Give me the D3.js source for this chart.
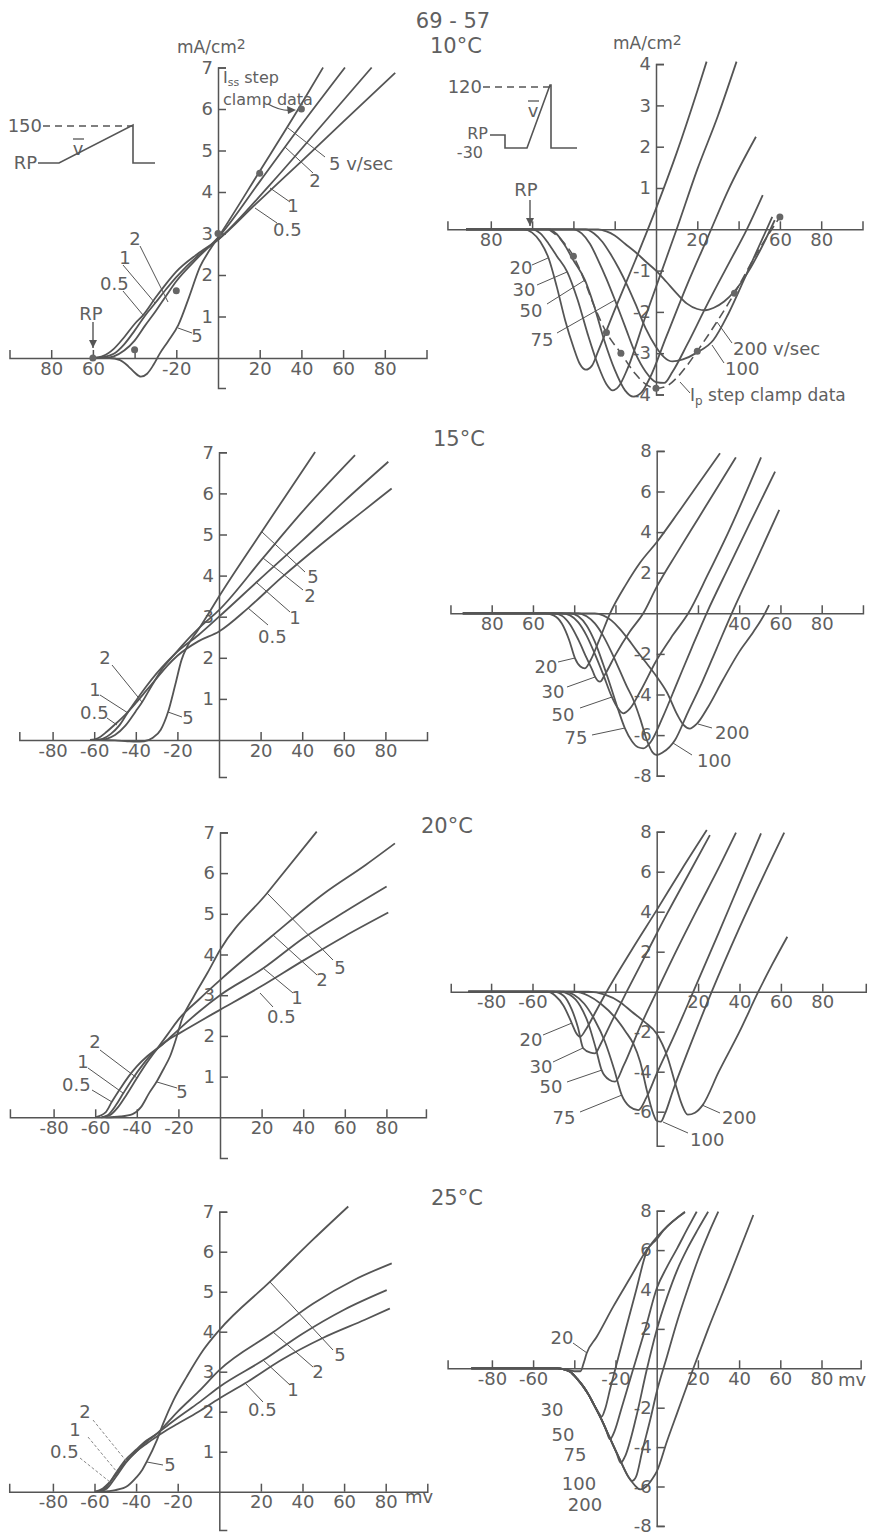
<!DOCTYPE html>
<html>
<head>
<meta charset="utf-8">
<script src="https://cdn.jsdelivr.net/npm/d3@7"></script>
<style>
  html, body { margin: 0; padding: 0; background: #fff; }
  svg text { font-family: "DejaVu Sans", sans-serif; fill: #606060; }
</style>
</head>
<body>
<svg id="fig" width="873" height="1540"></svg>
<script>
// ---------- data: membrane current (mA/cm2) vs potential (mV) ----------
const xTickValues = [-80, -60, -40, -20, 20, 40, 60, 80];

// 10 C, slow ramps (v/sec)
const l10_05 = [[-60,0],[-55,0.05],[-50,0.22],[-45,0.5],[-40,0.82],[-35.8,1.04],[-30,1.45],[-25,1.78],[-20,2.08],[-10,2.5],[0,2.85],[17.7,3.69],[40,4.74],[60,5.69],[85,6.87]];
const l10_1  = [[-60,0],[-55,0.02],[-50,0.1],[-45,0.33],[-40,0.66],[-35,1.02],[-30,1.33],[-25,1.65],[-20,1.95],[-10,2.45],[0,2.85],[25,4.18],[50,5.62],[73.7,7.0]];
const l10_2  = [[-60,0],[-55,0],[-50,0.04],[-45,0.18],[-40,0.42],[-35,0.78],[-30,1.12],[-24.6,1.52],[-20,1.85],[-10,2.4],[0,2.9],[20,4.25],[40,5.62],[60.9,7.0]];
const l10_5  = [[-60,0],[-52,0],[-47,-0.05],[-43,-0.2],[-40,-0.35],[-37,-0.45],[-34,-0.38],[-31,-0.17],[-28,0.1],[-24,0.4],[-19,0.8],[-14,1.45],[-8.6,2.2],[-4,2.6],[0,2.9],[20,4.5],[40,6.12],[50.4,7.0]];
const l10_iss = [[-60,0],[-40,0.2],[-20,1.62],[0,3.0],[20,4.45],[40,6.0]];

// 10 C, fast ramps (v/sec)
const r10_20  = [[-92,0],[-64,0],[-60,-0.08],[-56,-0.3],[-52,-0.7],[-48,-1.4],[-44,-2.2],[-40,-2.85],[-37,-3.25],[-34,-3.4],[-31,-3.3],[-28,-2.95],[-20,-1.95],[-10,-0.75],[0,0.5],[10,1.85],[20,3.35],[24.5,4.06]];
const r10_30  = [[-92,0],[-60,0],[-56,-0.1],[-52,-0.35],[-48,-0.65],[-43,-1.03],[-38,-1.7],[-33,-2.55],[-28,-3.3],[-24,-3.75],[-21,-3.9],[-18,-3.8],[-14,-3.4],[-5,-2.1],[5,-0.7],[10,0],[20,1.45],[30,2.75],[39,4.06]];
const r10_50  = [[-92,0],[-52,0],[-48,-0.12],[-44,-0.4],[-40,-0.75],[-34.4,-1.23],[-30,-1.85],[-25,-2.7],[-20,-3.4],[-15,-3.9],[-11,-4.05],[-7,-3.95],[-3,-3.6],[5,-2.6],[15,-1.35],[25,-0.2],[35,0.95],[48.4,2.24]];
const r10_75  = [[-92,0],[-40,0],[-36,-0.1],[-32,-0.35],[-28,-0.75],[-24,-1.2],[-19.9,-1.71],[-15,-2.35],[-10,-3.0],[-5,-3.45],[0,-3.7],[4,-3.72],[8,-3.45],[15,-2.8],[25,-1.8],[35,-0.85],[44,0],[51.7,0.83]];
const r10_100 = [[-92,0],[-34,0],[-30,-0.1],[-26,-0.3],[-22,-0.6],[-18,-0.95],[-14,-1.35],[-10,-1.8],[-5,-2.4],[0,-2.85],[4,-3.1],[8,-3.2],[13,-3.15],[20,-2.98],[27.8,-2.68],[35,-2.05],[45,-0.95],[56.3,0.3]];
const r10_200 = [[-92,0],[-28,0],[-24,-0.05],[-20,-0.15],[-15,-0.35],[-10,-0.55],[-5,-0.78],[0,-1.0],[5,-1.27],[10,-1.55],[15,-1.8],[20,-1.93],[24,-1.96],[28,-1.9],[33,-1.75],[38,-1.5],[45,-1.0],[50,-0.55],[57.5,0.22]];
const r10_ip  = [[-52,0],[-46,-0.25],[-40,-0.65],[-35,-1.2],[-30,-1.85],[-24,-2.5],[-17,-3.0],[-10,-3.5],[-5,-3.75],[0,-3.85],[5,-3.8],[10,-3.6],[15,-3.3],[20,-2.95],[30,-2.2],[38,-1.55],[48,-0.65],[60,0.3]];
const r10_ipDots = [[-40,-0.65],[-24,-2.5],[-17,-3.0],[0,-3.85],[20,-2.95],[38,-1.55],[60,0.3]];

// 15 C
const l15_05 = [[-62,0],[-58,0.05],[-54,0.2],[-50,0.38],[-45,0.62],[-40,0.9],[-35,1.2],[-30,1.5],[-25,1.8],[-20,2.05],[-10,2.4],[0,2.64],[14,3.21],[30,3.95],[50,4.8],[70,5.6],[83,6.12]];
const l15_1  = [[-60,0],[-56,0.03],[-52,0.15],[-48,0.35],[-44,0.66],[-40,0.95],[-35,1.3],[-30,1.62],[-25,1.9],[-20,2.15],[-10,2.55],[0,3.0],[18.3,3.85],[40,4.85],[60,5.8],[81.4,6.77]];
const l15_2  = [[-58,0],[-54,0.03],[-50,0.12],[-45,0.35],[-40,0.7],[-37,0.92],[-32,1.35],[-27,1.75],[-22,2.05],[-15,2.45],[-8,2.8],[0,3.16],[21.2,4.43],[40,5.55],[65.4,6.93]];
const l15_5  = [[-58,0],[-50,-0.01],[-44,-0.03],[-40,-0.04],[-36,-0.03],[-32,0.05],[-28,0.25],[-24.5,0.68],[-21,1.35],[-18,1.95],[-15,2.3],[-10,2.68],[-5,3.08],[0,3.49],[20.7,5.08],[46.2,7.01]];

const r15_20  = [[-94,0],[-54,0],[-50,-0.1],[-46,-0.5],[-42.5,-1.3],[-39.6,-2.22],[-37,-2.62],[-34.8,-2.71],[-32,-2.3],[-28,-1.35],[-22.6,0],[-15,1.4],[-8,2.5],[0,3.5],[10,4.9],[20,6.35],[30.7,7.88]];
const r15_30  = [[-94,0],[-50,0],[-46,-0.12],[-42,-0.55],[-38,-1.3],[-34,-2.2],[-31,-2.85],[-29.9,-3.12],[-27.5,-3.37],[-25,-3.0],[-20,-2.05],[-13,-0.9],[-6.5,0],[0,1.3],[10,3.0],[20,4.65],[30,6.3],[38.4,7.68]];
const r15_50  = [[-94,0],[-46,0],[-42,-0.1],[-38,-0.45],[-34,-1.1],[-30,-2.0],[-26,-3.0],[-21.8,-4.11],[-19,-4.65],[-16.2,-4.93],[-13,-4.7],[-8,-3.85],[0,-2.3],[8,-1.05],[15.3,0],[25,1.95],[35,4.05],[50.6,7.68]];
const r15_75  = [[-94,0],[-42,0],[-38,-0.15],[-34,-0.6],[-30,-1.4],[-26,-2.5],[-22,-3.7],[-18.5,-4.8],[-15.4,-5.67],[-12,-6.3],[-9,-6.6],[-6.5,-6.65],[-3,-6.35],[3,-5.1],[10,-3.4],[17,-1.7],[24.2,0],[35,2.3],[45,4.4],[57.4,6.98]];
const r15_100 = [[-94,0],[-38,0],[-34,-0.15],[-30,-0.5],[-26,-1.1],[-22,-1.9],[-18,-2.8],[-14.5,-3.6],[-11.3,-4.27],[-8,-5.2],[-4.8,-6.24],[-2,-6.85],[0,-6.98],[3,-6.85],[8.9,-6.24],[15,-4.9],[22,-3.4],[29,-1.75],[36.4,0],[48,2.55],[59.4,5.09]];
const r15_200 = [[-94,0],[-30,0],[-26,-0.1],[-22,-0.35],[-18,-0.75],[-14,-1.25],[-10,-1.8],[-5,-2.45],[0,-3.12],[5,-3.9],[10,-5.0],[13,-5.5],[16,-5.68],[19.4,-5.45],[25,-4.6],[32,-3.3],[40,-1.9],[47,-0.9],[52.5,0],[54.5,0.4]];

// 20 C
const l20_05 = [[-60,0],[-55,0.12],[-52,0.38],[-48,0.7],[-44,1.0],[-40,1.25],[-35,1.5],[-30,1.7],[-25,1.9],[-20,2.05],[-10,2.35],[0,2.64],[19.2,3.2],[40,3.85],[60,4.45],[80.9,5.03]];
const l20_1  = [[-57,0],[-54,0.05],[-50,0.3],[-46.5,0.59],[-42,0.95],[-37,1.3],[-32,1.6],[-27,1.82],[-20,2.15],[-10,2.6],[0,3.0],[20.8,3.66],[40,4.4],[60,5.05],[80.1,5.67]];
const l20_2  = [[-57,0],[-53,0.05],[-49,0.25],[-45,0.55],[-40,0.96],[-35,1.35],[-30,1.7],[-25,2.05],[-20,2.4],[-10,2.9],[0,3.37],[25.6,4.48],[50,5.5],[70,6.2],[84.1,6.73]];
const l20_5  = [[-55,0],[-48,0.02],[-42,0.08],[-38,0.25],[-34,0.6],[-30.4,0.88],[-27,1.2],[-24,1.5],[-21,1.95],[-18.4,2.39],[-12.8,2.95],[-6,3.55],[0,4.11],[22.5,5.5],[46.5,7.02]];

const r20_20  = [[-91,0],[-53,0],[-49,-0.2],[-45,-0.7],[-41,-1.58],[-39,-2.05],[-37,-2.25],[-34,-1.85],[-30,-1.1],[-24.2,0],[-12,2.1],[0,4.08],[12,6.1],[24.2,8.08]];
const r20_30  = [[-91,0],[-50,0],[-45,-0.2],[-41,-0.9],[-38,-1.8],[-35.5,-2.83],[-32,-3.05],[-29.8,-3.08],[-27,-2.6],[-22,-1.55],[-14.5,0],[-5,1.9],[5,3.9],[15,5.8],[25.7,7.83]];
const r20_50  = [[-91,0],[-47,0],[-42,-0.15],[-37,-0.7],[-33,-1.6],[-29.5,-2.8],[-26.6,-3.92],[-23,-4.4],[-20.1,-4.5],[-16,-3.7],[-8,-1.75],[0,0],[10,2.15],[20,4.2],[30,6.2],[38.3,7.95]];
const r20_75  = [[-91,0],[-45,0],[-40,-0.15],[-35,-0.6],[-30,-1.4],[-25,-2.5],[-20.5,-3.9],[-16.9,-5.17],[-13,-5.75],[-8.9,-5.92],[-5,-5.3],[0,-4.1],[8,-2.3],[17.7,0],[30,2.95],[40,5.4],[50.4,7.92]];
const r20_100 = [[-91,0],[-40,0],[-33,-0.2],[-27,-0.6],[-20,-1.3],[-15,-2.0],[-11.3,-2.6],[-8,-3.5],[-4.8,-4.92],[-2,-6.0],[0,-6.45],[2,-6.5],[4,-6.1],[8,-4.9],[15,-3.0],[26.6,0],[40,3.2],[61.6,7.95]];
const r20_200 = [[-91,0],[-33,0],[-25,-0.15],[-18,-0.5],[-12,-1.0],[-6,-1.5],[0,-2.1],[5,-3.2],[9,-4.6],[12,-5.6],[15,-6.15],[18.5,-6.05],[22.2,-5.67],[30,-4.0],[40,-2.0],[49.1,0],[56,1.4],[63.1,2.75]];

// 25 C
const l25_05 = [[-60,0],[-56,0.08],[-52.5,0.25],[-48,0.55],[-44,0.8],[-40,1.0],[-35,1.2],[-30,1.38],[-25,1.55],[-20,1.7],[-10,2.0],[0,2.33],[12.4,2.71],[30,3.3],[50,3.85],[70,4.3],[82,4.58]];
const l25_1  = [[-59,0],[-55,0.08],[-49.3,0.5],[-45,0.8],[-40,1.05],[-35,1.28],[-30,1.45],[-25,1.65],[-20,1.85],[-10,2.22],[0,2.62],[21.2,3.29],[40,3.95],[60,4.55],[80.5,5.04]];
const l25_2  = [[-58,0],[-54,0.08],[-50,0.35],[-44.5,0.75],[-40,1.0],[-35,1.25],[-30,1.45],[-25,1.72],[-20,2.0],[-10,2.5],[0,3.04],[26,3.99],[45,4.7],[65,5.3],[82.9,5.71]];
const l25_5  = [[-57,0],[-50,0.04],[-44,0.15],[-40,0.35],[-37,0.55],[-34.9,0.75],[-30,1.29],[-27,1.7],[-22,2.29],[-15.7,2.87],[-7.7,3.54],[0,4.04],[24.4,5.25],[45,6.3],[62,7.13]];

const r25_20  = [[-90,0],[-48,0],[-44,-0.05],[-40,-0.15],[-37,-0.15],[-35.5,0.25],[-34,0.76],[-29.1,1.6],[-21.1,3.13],[-13,4.57],[-4.9,6.0],[3.2,7.02],[13.7,7.95]];
const r25_30  = [[-90,0],[-48,0],[-45,-0.05],[-42,-0.17],[-38.5,-0.55],[-35.6,-0.93],[-33,-1.35],[-30.8,-1.78],[-28.5,-2.2],[-26.7,-2.45],[-25,-2.05],[-22.5,-1.0],[-20,0],[-15,2.0],[-10,3.95],[-4.9,5.92],[0,6.55],[3.2,6.98],[13.7,7.92]];
const r25_50  = [[-90,0],[-48,0],[-45,-0.05],[-42,-0.17],[-38.5,-0.55],[-35.6,-0.93],[-33,-1.35],[-30.8,-1.78],[-26.7,-2.62],[-24.5,-3.15],[-22.7,-3.6],[-20.5,-3.2],[-17,-2.0],[-11.3,0],[-5,2.2],[0,4.05],[5,5.15],[10,6.1],[15,7.1],[19.4,7.95]];
const r25_75  = [[-90,0],[-48,0],[-45,-0.05],[-42,-0.17],[-38.5,-0.55],[-35.6,-0.93],[-33,-1.35],[-30.8,-1.78],[-26.7,-2.62],[-22.7,-3.55],[-19.5,-4.3],[-17.5,-4.8],[-15.5,-4.5],[-10,-2.5],[-5,-0.15],[0,1.94],[5,3.6],[10,5.0],[15,6.1],[20,7.05],[25,7.95]];
const r25_100 = [[-90,0],[-48,0],[-45,-0.05],[-42,-0.17],[-38.5,-0.55],[-35.6,-0.93],[-33,-1.35],[-30.8,-1.78],[-26.7,-2.62],[-22.7,-3.55],[-17.8,-4.65],[-13.8,-5.5],[-12,-5.72],[-10,-5.5],[-7,-4.2],[-3,-2.55],[0,-1.2],[5,0.6],[10,2.4],[15,4.0],[20,5.5],[25,6.8],[29.9,7.95]];
const r25_200 = [[-90,0],[-48,0],[-45,-0.05],[-42,-0.17],[-38.5,-0.55],[-35.6,-0.93],[-33,-1.35],[-30.8,-1.78],[-26.7,-2.62],[-22.7,-3.55],[-17.8,-4.65],[-13.8,-5.5],[-10.5,-5.95],[-8.1,-6.15],[-5,-6.0],[-2,-5.6],[0,-5.25],[5,-3.7],[10,-2.25],[17.8,0],[25,2.0],[35,4.6],[46.9,7.78]];

// tick labels
const xLabels10L = {'-80':'80','-60':'60','-20':'-20','20':'20','40':'40','60':'60','80':'80'};
const xLabelsAll = {'-80':'-80','-60':'-60','-40':'-40','-20':'-20','20':'20','40':'40','60':'60','80':'80'};
const xLabels10R = {'-80':'80','20':'20','60':'60','80':'80'};
const xLabels15R = {'-80':'80','-60':'60','40':'40','60':'60','80':'80'};
const xLabels20R = {'-80':'-80','-60':'-60','20':'20','40':'40','60':'60','80':'80'};
const xLabels25R = {'-80':'-80','-60':'-60','-20':'-20','20':'20','40':'40','60':'60','80':'80'};
const yTicksL = [1, 2, 3, 4, 5, 6, 7];
const yTicks10R = [4, 3, 2, 1, -1, -2, -3, -4];
const yTicksR = [8, 6, 4, 2, -2, -4, -6, -8];
const yTicks20R = [8, 6, 4, 2, -2, -4, -6];

// ---------- layout ----------
const panels = [
  { cx: 218, kx: 2.085, cy: 358, ky: 41.5, xDom: [-100, 100], yDom: [-0.72, 7], xLab: xLabels10L, yTicks: yTicksL,
    curves: [l10_05, l10_1, l10_2, l10_5], dots: l10_iss },
  { cx: 656, kx: 2.065, cy: 229.3, ky: 41.3, xDom: [-101, 100], yDom: [-4, 4], xLab: xLabels10R, yTicks: yTicks10R,
    curves: [r10_20, r10_30, r10_50, r10_75, r10_100, r10_200], dashed: r10_ip, dots: r10_ipDots },
  { cx: 219, kx: 2.08, cy: 740, ky: 41.1, xDom: [-96, 100], yDom: [-0.9, 7], xLab: xLabelsAll, yTicks: yTicksL,
    curves: [l15_05, l15_1, l15_2, l15_5] },
  { cx: 656.7, kx: 2.0625, cy: 613.3, ky: 20.3, xDom: [-100, 100], yDom: [-8, 8], xLab: xLabels15R, yTicks: yTicksR,
    curves: [r15_20, r15_30, r15_50, r15_75, r15_100, r15_200] },
  { cx: 220, kx: 2.08, cy: 1117.3, ky: 40.7, xDom: [-101, 99], yDom: [-1, 7], xLab: xLabelsAll, yTicks: yTicksL,
    curves: [l20_05, l20_1, l20_2, l20_5] },
  { cx: 656.7, kx: 2.07, cy: 991.7, ky: 20, xDom: [-99.5, 101], yDom: [-7.7, 8], xLab: xLabels20R, yTicks: yTicks20R,
    curves: [r20_20, r20_30, r20_50, r20_75, r20_100, r20_200] },
  { cx: 219.3, kx: 2.08, cy: 1491.7, ky: 40, xDom: [-101, 100], yDom: [-0.96, 7], xLab: xLabelsAll, yTicks: yTicksL,
    curves: [l25_05, l25_1, l25_2, l25_5] },
  { cx: 656.7, kx: 2.06, cy: 1368.3, ky: 19.7, xDom: [-101.5, 99], yDom: [-8, 8], xLab: xLabels25R, yTicks: yTicksR,
    curves: [r25_20, r25_30, r25_50, r25_75, r25_100, r25_200] }
];

const ink = '#555';
const svg = d3.select('#fig');

function drawPanel(p) {
  const x = d3.scaleLinear().domain(p.xDom).range(p.xDom.map(v => p.cx + v * p.kx));
  const y = d3.scaleLinear().domain(p.yDom).range(p.yDom.map(v => p.cy - v * p.ky));
  const g = svg.append('g');

  const xAxis = g.append('g')
    .attr('transform', 'translate(0,' + p.cy + ')')
    .call(d3.axisBottom(x).tickValues(xTickValues)
      .tickFormat(d => p.xLab[String(d)] || '')
      .tickSize(-8).tickSizeOuter(-8).tickPadding(4));

  const yAxis = g.append('g')
    .attr('transform', 'translate(' + p.cx + ',0)')
    .call(d3.axisLeft(y).tickValues(p.yTicks)
      .tickFormat(d => String(d))
      .tickSize(-8).tickSizeOuter(-8).tickPadding(5));

  [xAxis, yAxis].forEach(a => {
    a.attr('font-size', 18).attr('font-family', '"DejaVu Sans", sans-serif').attr('color', ink);
    a.selectAll('path, line').attr('stroke-width', 1.5);
  });

  const line = d3.line()
    .x(d => x(d[0]))
    .y(d => y(d[1]))
    .curve(d3.curveMonotoneX);

  g.selectAll('path.curve')
    .data(p.curves)
    .join('path')
    .attr('class', 'curve')
    .attr('fill', 'none')
    .attr('stroke', ink)
    .attr('stroke-width', 1.8)
    .attr('d', line);

  if (p.dashed) {
    g.append('path')
      .datum(p.dashed)
      .attr('fill', 'none')
      .attr('stroke', ink)
      .attr('stroke-width', 1.6)
      .attr('stroke-dasharray', '9,5')
      .attr('d', line);
  }

  if (p.dots) {
    g.selectAll('circle')
      .data(p.dots)
      .join('circle')
      .attr('cx', d => x(d[0]))
      .attr('cy', d => y(d[1]))
      .attr('r', 3.5)
      .attr('fill', '#666');
  }
}

panels.forEach(drawPanel);

// ---------- annotations ----------
const notes = [
  // [text, x, y, anchor, size]
  ['69 - 57', 453, 20, 'middle', 21], ['10°C', 430, 45, 'start', 21],
  ['15°C', 433, 438, 'start', 21], ['20°C', 421, 825, 'start', 21], ['25°C', 431, 1197, 'start', 21],
  // 10 C left
  ['5 v/sec', 329, 164, 'start'], ['2', 315, 181, 'middle'], ['1', 293, 206, 'middle'], ['0.5', 273, 230, 'start'],
  ['2', 135, 239, 'middle'], ['1', 125, 258, 'middle'], ['0.5', 100, 284, 'start'], ['5', 197, 336, 'middle'],
  ['RP', 91, 314, 'middle'], ['clamp data', 223, 99, 'start', 16],
  ['150', 42, 126, 'end'], ['RP', 37, 163, 'end'], ['v', 78, 149, 'middle'],
  // 10 C right
  ['20', 521, 268, 'middle'], ['30', 524, 290, 'middle'], ['50', 531, 311, 'middle'], ['75', 542, 340, 'middle'],
  ['200 v/sec', 733, 349, 'start'], ['100', 725, 369, 'start'], ['RP', 526, 190, 'middle'],
  ['120', 482, 87, 'end'], ['RP', 488, 133, 'end', 16], ['-30', 483, 152, 'end', 16], ['v', 533, 111, 'middle'],
  // 15 C
  ['5', 313, 577, 'middle'], ['2', 310, 596, 'middle'], ['1', 295, 618, 'middle'], ['0.5', 258, 637, 'start'],
  ['2', 105, 658, 'middle'], ['1', 95, 690, 'middle'], ['0.5', 80, 713, 'start'], ['5', 188, 718, 'middle'],
  ['20', 546, 667, 'middle'], ['30', 553, 692, 'middle'], ['50', 563, 715, 'middle'], ['75', 576, 738, 'middle'],
  ['200', 715, 733, 'start'], ['100', 697, 761, 'start'],
  // 20 C
  ['5', 340, 968, 'middle'], ['2', 322, 980, 'middle'], ['1', 297, 998, 'middle'], ['0.5', 267, 1017, 'start'],
  ['2', 95, 1042, 'middle'], ['1', 83, 1062, 'middle'], ['0.5', 62, 1085, 'start'], ['5', 182, 1092, 'middle'],
  ['20', 531, 1040, 'middle'], ['30', 541, 1067, 'middle'], ['50', 551, 1087, 'middle'], ['75', 564, 1118, 'middle'],
  ['200', 722, 1118, 'start'], ['100', 690, 1140, 'start'],
  // 25 C
  ['5', 340, 1355, 'middle'], ['2', 318, 1372, 'middle'], ['1', 293, 1390, 'middle'], ['0.5', 248, 1410, 'start'],
  ['2', 85, 1412, 'middle'], ['1', 75, 1430, 'middle'], ['0.5', 50, 1452, 'start'], ['5', 170, 1465, 'middle'],
  ['mv', 405, 1497, 'start'],
  ['20', 562, 1338, 'middle'], ['30', 552, 1410, 'middle'], ['50', 563, 1435, 'middle'], ['75', 575, 1455, 'middle'],
  ['100', 579, 1484, 'middle'], ['200', 585, 1505, 'middle'], ['mv', 838, 1380, 'start']
];

svg.append('g').selectAll('text')
  .data(notes)
  .join('text')
  .attr('x', d => d[1])
  .attr('y', d => d[2])
  .attr('dy', '0.36em')
  .attr('text-anchor', d => d[3])
  .attr('font-size', d => d[4] || 18)
  .text(d => d[0]);

// texts with sub/superscripts
function richText(x, y, parts) {
  const t = svg.append('text').attr('x', x).attr('y', y).attr('font-size', 17);
  parts.forEach(pt => t.append('tspan').attr('dy', pt[1]).attr('font-size', pt[2]).text(pt[0]));
}
richText(177, 53, [['mA/cm', 0, 17], ['2', -4, 14]]);
richText(613, 49, [['mA/cm', 0, 17], ['2', -4, 14]]);
richText(223, 83, [['I', 0, 16], ['ss', 3, 11], [' step', -3, 16]]);
richText(690, 401, [['I', 0, 17], ['p', 4, 12], [' step clamp data', -4, 17]]);

// leader lines
const leaders = [
  [[288,128],[325,157]], [[285,147],[313,173]], [[270,188],[290,202]], [[255,208],[277,223]],
  [[140,246],[168,302]], [[123,265],[155,303]], [[123,291],[143,315]], [[178,328],[192,333]],
  [[532,265],[548,258]], [[537,285],[567,272]], [[547,304],[585,280]], [[557,333],[615,300]],
  [[732,343],[717,322]], [[724,363],[712,345]], [[690,393],[680,382]],
  [[262,532],[305,572]], [[263,558],[303,590]], [[257,583],[290,612]], [[248,608],[268,625]],
  [[112,665],[142,702]], [[100,695],[128,713]], [[107,718],[117,725]], [[168,712],[182,717]],
  [[558,662],[575,658]], [[567,687],[595,677]], [[580,708],[612,697]], [[592,735],[625,728]],
  [[712,728],[698,724]], [[692,755],[673,743]],
  [[267,893],[333,960]], [[273,935],[317,975]], [[263,968],[293,993]], [[260,993],[273,1007]],
  [[100,1050],[137,1078]], [[88,1068],[123,1093]], [[92,1090],[112,1102]], [[157,1082],[177,1088]],
  [[543,1035],[572,1023]], [[553,1062],[583,1048]], [[567,1082],[602,1070]], [[580,1112],[622,1095]],
  [[720,1113],[702,1105]], [[688,1133],[663,1122]],
  [[270,1282],[333,1350]], [[273,1332],[313,1367]], [[263,1360],[290,1385]], [[245,1383],[263,1402]],
  [[147,1462],[163,1465]], [[573,1343],[587,1353]]
];
svg.append('g').selectAll('line')
  .data(leaders)
  .join('line')
  .attr('x1', d => d[0][0]).attr('y1', d => d[0][1])
  .attr('x2', d => d[1][0]).attr('y2', d => d[1][1])
  .attr('stroke', ink).attr('stroke-width', 1);

// faint dashed leaders (25 C, left)
svg.append('g').selectAll('line')
  .data([[[93,1420],[127,1462]], [[88,1437],[117,1472]], [[80,1458],[110,1482]]])
  .join('line')
  .attr('x1', d => d[0][0]).attr('y1', d => d[0][1])
  .attr('x2', d => d[1][0]).attr('y2', d => d[1][1])
  .attr('stroke', '#888').attr('stroke-width', 1).attr('stroke-dasharray', '3,2');

// voltage-clamp ramp insets
const plain = d3.line();
const insets = [
  { pts: [[38,163],[59,163],[133,125],[133,163],[155,163]], dash: [[43,126],[133,126]], bar: [[73,139],[84,139]] },
  { pts: [[490,135],[505,135],[505,148],[527,148],[550,85],[551,85],[551,148],[577,148]], dash: [[483,87],[550,87]], bar: [[528,101],[539,101]] }
];
insets.forEach(s => {
  svg.append('path').attr('d', plain(s.pts)).attr('fill', 'none').attr('stroke', ink).attr('stroke-width', 1.6);
  svg.append('path').attr('d', plain(s.dash)).attr('fill', 'none').attr('stroke', ink)
    .attr('stroke-width', 1.4).attr('stroke-dasharray', '7,5');
  svg.append('path').attr('d', plain(s.bar)).attr('stroke', ink).attr('stroke-width', 1.3);
});

// RP arrows
[[93, 322, 348], [530, 200, 226]].forEach(a => {
  svg.append('line').attr('x1', a[0]).attr('y1', a[1]).attr('x2', a[0]).attr('y2', a[2])
    .attr('stroke', ink).attr('stroke-width', 1.4);
  svg.append('path').attr('d', `M${a[0]-4},${a[2]-8}L${a[0]},${a[2]}L${a[0]+4},${a[2]-8}Z`).attr('fill', ink);
});

// arrow from "clamp data" to the 40 mV point
svg.append('path').attr('d', 'M268,104 Q282,112 294,110').attr('fill', 'none').attr('stroke', ink).attr('stroke-width', 1.2);
svg.append('path').attr('d', 'M287,106 L296,110 L288,114 Z').attr('fill', ink);
</script>
</body>
</html>
